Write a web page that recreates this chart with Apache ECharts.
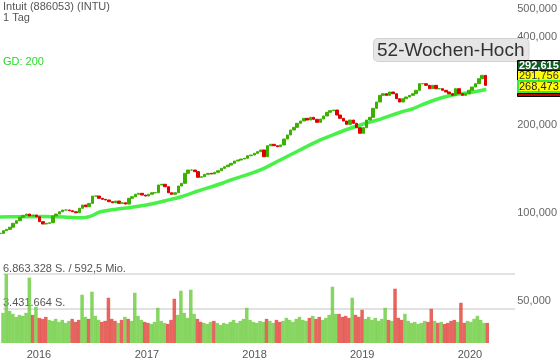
<!DOCTYPE html>
<html lang="de">
<head>
    <meta charset="UTF-8">
    <title>Intuit (INTU)</title>
    <script src="https://cdn.jsdelivr.net/npm/echarts@6/dist/echarts.min.js"></script>
    <style>
        html, body { margin: 0; padding: 0; background: #fff; }
        #chart { width: 560px; height: 363px; }
    </style>
</head>
<body>
<div id="chart"></div>
<script>
    // Schlusskurse, etwa alle 11 Tage (ab 01.09.2015)
    const startDate = '2015-09-01';
    const stepDays = 11.17;
    const closes = [
        85.2, 87.0, 87.9, 89.4, 92.2, 94.1, 96.7, 98.2, 99.2, 97.7,
        98.4, 97.1, 93.4, 91.7, 92.2, 92.6, 97.7, 99.2, 101.0, 102.4,
        102.4, 101.8, 101.0, 100.2, 103.8, 106.5, 105.1, 107.9, 114.3, 114.3,
        112.3, 111.4, 110.8, 109.3, 108.4, 109.9, 107.9, 108.4, 107.3,
        112.3, 113.7, 115.9, 116.8, 115.2, 114.3, 115.9, 117.3, 117.3,
        124.7, 125.4, 123.0, 117.3, 115.9, 117.3, 123.7, 126.4,
        136.7, 140.3, 140.3, 138.5, 132.5, 133.1, 135.6, 136.7, 136.0, 137.8,
        139.5, 142.2, 144.0, 145.9, 147.9, 150.6, 151.8, 153.0, 153.9, 157.0,
        157.9, 160.0, 162.1, 164.3, 155.8, 169.9, 171.8, 169.9, 168.6, 170.9,
        179.1, 184.9, 192.3, 196.4, 202.7, 206.4, 210.8, 208.0, 212.5, 209.2,
        204.3, 209.7, 214.7, 221.1, 223.9, 225.1, 216.4, 210.8, 206.4, 201.1,
        208.0, 202.7, 195.8, 187.4, 195.8, 208.0, 212.5, 228.1,
        239.7, 252.7, 255.9, 252.7, 259.4, 255.9, 246.0, 239.7, 246.0, 249.4,
        252.7, 255.9, 262.9, 276.9, 276.9, 273.4, 266.2, 273.4, 266.2, 266.2,
        262.9, 259.4, 255.9, 252.7, 266.2, 255.9, 252.7, 255.9, 262.9, 269.8,
        276.9, 288.0, 295.8, 273.4
    ];
    // Umsatz in Mio. Stück
    const volumesMio = [
        3.0, 6.86, 3.2, 2.9, 2.6, 2.8, 2.7, 3.0, 6.5, 2.8,
        3.6, 2.5, 2.4, 2.6, 2.3, 2.2, 2.4, 2.1, 2.3, 2.0,
        2.2, 2.4, 2.1, 2.3, 4.8, 2.6, 2.4, 5.1, 2.7, 2.3,
        2.1, 2.2, 4.5, 2.4, 2.2, 2.0, 2.3, 2.6, 2.4, 2.2,
        5.0, 2.7, 2.3, 2.1, 2.0, 1.9, 2.1, 3.5, 2.2, 2.0,
        1.9, 2.3, 4.4, 2.8, 5.2, 3.0, 2.5, 5.3, 2.9, 2.4,
        2.1, 2.0, 1.9, 2.1, 2.2, 2.0, 1.8, 2.0, 1.9, 2.1,
        2.3, 2.0, 2.2, 2.4, 3.5, 2.3, 2.1, 2.0, 2.2, 2.1,
        2.4, 2.2, 2.0, 2.3, 2.1, 2.2, 2.5, 2.3, 2.1, 2.4,
        2.6, 2.3, 2.2, 2.5, 2.7, 2.4, 2.6, 2.3, 2.5, 2.8,
        5.6, 2.9, 2.9, 2.6, 2.7, 2.5, 4.5, 2.8, 2.6, 3.3,
        2.4, 2.6, 2.3, 2.5, 2.2, 2.4, 3.5, 2.3, 2.2, 5.4,
        2.5, 2.3, 2.9, 2.2, 2.0, 2.1, 1.9, 2.0, 2.2, 2.1,
        3.4, 2.2, 2.0, 2.1, 1.9, 2.0, 2.2, 2.3, 2.1, 4.0,
        2.0, 2.2, 2.1, 2.4, 2.7, 2.3, 2.0, 2.0
    ];
    // GD 200 (gleitender Durchschnitt 200 Tage)
    const maDates = [
        '2015-09-01', '2015-11-07', '2016-01-23', '2016-03-10', '2016-04-23', '2016-06-05',
        '2016-07-09', '2016-08-01', '2016-09-27', '2016-11-20', '2017-01-16', '2017-03-14',
        '2017-05-06', '2017-07-02', '2017-09-24', '2017-10-21', '2017-12-23', '2018-02-12',
        '2018-04-06', '2018-06-08', '2018-08-04', '2018-10-01', '2018-11-27', '2019-01-23',
        '2019-03-07', '2019-05-20', '2019-06-26', '2019-08-05', '2019-10-01', '2019-11-24',
        '2020-01-20', '2020-03-03'
    ];
    const maValues = [
        96.9, 97.1, 97.3, 97.1, 96.7, 96.4,
        98.0, 100.6, 103.0, 104.6, 106.9, 110.2,
        113.7, 118.9, 126.7, 129.7, 136.0, 142.5,
        151.8, 163.6, 174.9, 184.9, 194.6, 203.2,
        208.9, 221.6, 226.9, 236.0, 247.4, 254.7,
        259.4, 264.5
    ];
    const priceTicks = [50, 100, 200, 300, 400, 500];
    const yearTicks = ['2016-01-01', '2017-01-01', '2018-01-01', '2019-01-01', '2020-01-01'];
    const volumeTicks = [3431664, 6863328];
    const volumeTickLabels = ['3.431.664 S.', '6.863.328 S. / 592,5 Mio.'];
    const priceBoxes = ['292,615', '291,756', '268,473'];

    const font = '"Liberation Sans", Arial, sans-serif';
    const priceMin = 35.92, priceMax = 535.4;

    // Datum als lokale Zeit
    function toTime(str) {
        let p = str.split('-');
        return new Date(+p[0], +p[1] - 1, +p[2]).getTime();
    }

    const t0 = toTime(startDate);
    const xMin = t0, xMax = toTime('2020-06-02');
    const dateAt = i => t0 + i * stepDays * 86400000;

    let candleData = closes.map((c, i) => {
        let o = i === 0 ? c : closes[i - 1];
        return [dateAt(i), o, c, Math.min(o, c), Math.max(o, c)];
    });
    let volumeData = volumesMio.map((v, i) => {
        let up = i === 0 || closes[i] >= closes[i - 1];
        return {
            value: [dateAt(i), v * 1e6],
            itemStyle: {color: up ? 'rgba(95,200,45,0.75)' : 'rgba(222,50,40,0.75)'}
        };
    });
    let maData = maDates.map((d, i) => [toTime(d), maValues[i]]);

    let myChart = echarts.init(document.getElementById('chart'));
    let option = {
        animation: false,
        backgroundColor: '#fff',
        textStyle: {fontFamily: font},
        grid: [
            {left: 0, right: 45, top: 0, bottom: 20},
            {left: 0, right: 45, top: 274, height: 69}
        ],
        xAxis: [
            {type: 'value', gridIndex: 0, min: xMin, max: xMax, show: false},
            {
                type: 'value', gridIndex: 1, min: xMin, max: xMax,
                axisLine: {show: false}, axisTick: {show: false}, splitLine: {show: false},
                axisLabel: {
                    customValues: yearTicks.map(toTime),
                    formatter: v => String(new Date(v).getFullYear()),
                    color: '#555', fontSize: 11, margin: 6, fontFamily: font
                }
            }
        ],
        yAxis: [
            {type: 'log', gridIndex: 0, min: priceMin, max: priceMax, show: false},
            {
                type: 'value', gridIndex: 0, position: 'right',
                min: Math.log10(priceMin), max: Math.log10(priceMax),
                axisLine: {show: false}, axisTick: {show: false}, splitLine: {show: false},
                axisLabel: {
                    customValues: priceTicks.map(v => Math.log10(v)),
                    formatter: v => Math.pow(10, v).toFixed(3).replace('.', ','),
                    color: '#666', fontSize: 11, margin: 4, fontFamily: font
                }
            },
            {
                type: 'value', gridIndex: 1, min: 0, max: volumeTicks[1], interval: volumeTicks[0],
                axisLine: {show: false}, axisTick: {show: false},
                splitLine: {show: true, showMinLine: false, lineStyle: {color: '#e2e2e2', width: 2}},
                axisLabel: {
                    inside: true, margin: 0, verticalAlign: 'bottom',
                    color: '#555', fontSize: 11, fontFamily: font,
                    formatter: v => {
                        let k = volumeTicks.indexOf(v);
                        return k < 0 ? '' : volumeTickLabels[k];
                    }
                }
            }
        ],
        series: [
            {
                type: 'bar', xAxisIndex: 1, yAxisIndex: 2,
                data: volumeData, barWidth: 3.5
            },
            {
                type: 'line', xAxisIndex: 0, yAxisIndex: 0,
                data: maData, showSymbol: false, smooth: 0.3,
                lineStyle: {color: '#33f033', width: 3.5, opacity: 0.9},
                z: 3
            },
            {
                type: 'candlestick', xAxisIndex: 0, yAxisIndex: 0,
                data: candleData, encode: {x: 0, y: [1, 2, 3, 4]},
                barWidth: 3, barMinWidth: 3, barMaxWidth: 3,
                itemStyle: {
                    color: '#3cb000', color0: '#e00000',
                    borderColor: '#3cb000', borderColor0: '#e00000', borderWidth: 1
                },
                z: 4
            }
        ],
        graphic: [
            {
                type: 'text', left: 3, top: 1, z: 100,
                style: {text: 'Intuit (886053) (INTU)\n1 Tag', fill: '#555', font: '11px ' + font, lineHeight: 11}
            },
            {
                type: 'text', left: 3, top: 56, z: 100,
                style: {text: 'GD: 200', fill: '#22dd22', font: '11px ' + font}
            },
            {
                type: 'text', left: 373, top: 38, z: 100,
                style: {
                    text: '52-Wochen-Hoch', fill: '#333', font: '19px ' + font,
                    backgroundColor: '#e6e6e6', borderColor: '#d2d2d2', borderWidth: 1,
                    borderRadius: 4, padding: [2, 4, 1, 3]
                }
            },
            {type: 'rect', z: 100, shape: {x: 517.5, y: 60.5, width: 44, height: 10}, style: {fill: '#0d5e22', stroke: '#000', lineWidth: 1}},
            {type: 'rect', z: 100, shape: {x: 517.5, y: 70.5, width: 44, height: 10}, style: {fill: '#ffff00', stroke: '#000', lineWidth: 1}},
            {type: 'rect', z: 100, shape: {x: 518, y: 81, width: 43, height: 11}, style: {fill: '#ffff00', stroke: '#33ee33', lineWidth: 2}},
            {type: 'rect', z: 100, shape: {x: 517.5, y: 93.5, width: 44, height: 3}, style: {fill: '#cc0000', stroke: '#000', lineWidth: 1}},
            {type: 'text', z: 101, x: 519, y: 66, style: {text: priceBoxes[0], fill: '#fff', font: 'bold 11px ' + font, verticalAlign: 'middle'}},
            {type: 'text', z: 101, x: 519, y: 76, style: {text: priceBoxes[1], fill: '#333', font: '11px ' + font, verticalAlign: 'middle'}},
            {type: 'text', z: 101, x: 519, y: 87, style: {text: priceBoxes[2], fill: '#222', font: '11px ' + font, verticalAlign: 'middle'}}
        ]
    };
    myChart.setOption(option);
</script>
</body>
</html>
